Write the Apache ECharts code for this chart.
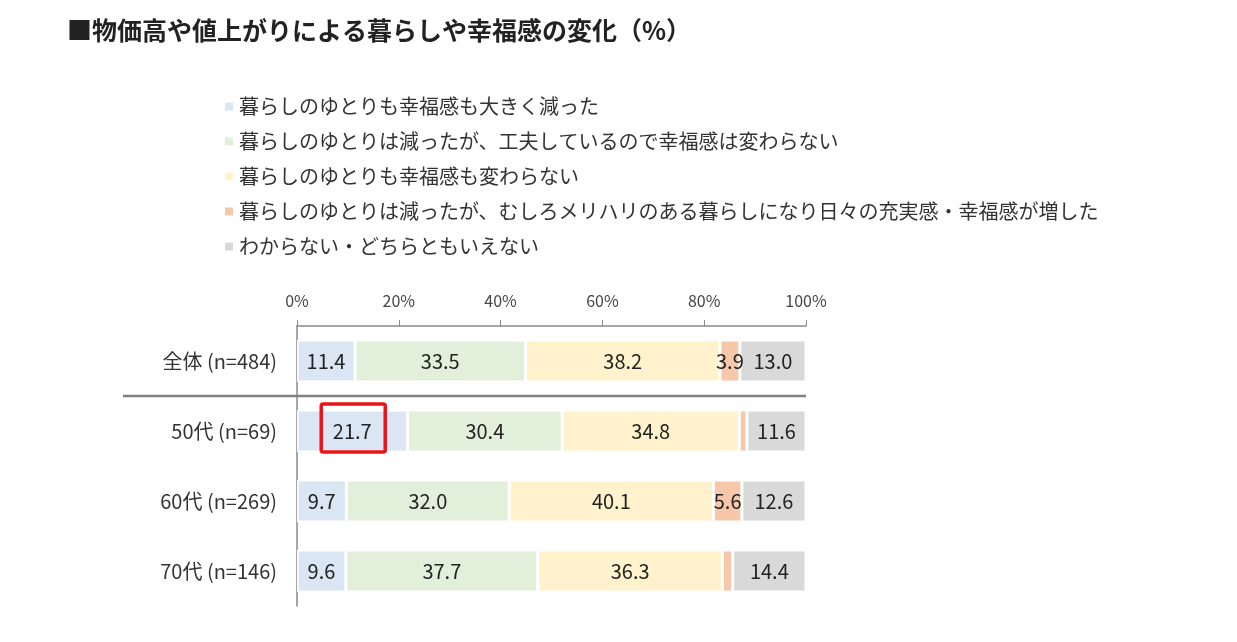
<!DOCTYPE html>
<html>
<head>
<meta charset="utf-8">
<script src="https://cdn.jsdelivr.net/npm/echarts@6/dist/echarts.min.js"></script>
<style>
  html, body { margin: 0; padding: 0; background: #fff; }
  #chart { width: 1237px; height: 642px; }
</style>
</head>
<body>
<div id="chart"></div>
<script>
// カテゴリ（上から順）
var categories = ['全体 (n=484)', '50代 (n=69)', '60代 (n=269)', '70代 (n=146)']
// 回答項目
var seriesNames = [
  '暮らしのゆとりも幸福感も大きく減った',
  '暮らしのゆとりは減ったが、工夫しているので幸福感は変わらない',
  '暮らしのゆとりも幸福感も変わらない',
  '暮らしのゆとりは減ったが、むしろメリハリのある暮らしになり日々の充実感・幸福感が増した',
  'わからない・どちらともいえない'
]
// 各項目の値（%）
var bigDecrease = [11.4, 21.7, 9.7, 9.6]
var sameByEffort = [33.5, 30.4, 32.0, 37.7]
var noChange = [38.2, 34.8, 40.1, 36.3]
var moreFulfilled = [3.9, 1.5, 5.6, 2.0]
var unknown = [13.0, 11.6, 12.6, 14.4]

var colors = ['#dae6f3', '#e2efda', '#fff2cc', '#f6c7a8', '#d9d9d9']
var seriesData = [bigDecrease, sameByEffort, noChange, moreFulfilled, unknown]

var chart = echarts.init(document.getElementById('chart'))

var series = seriesData.map(function (d, i) {
  return {
    name: seriesNames[i],
    type: 'bar',
    stack: 'total',
    barWidth: '60%',
    data: d,
    itemStyle: { color: colors[i], borderColor: '#fff', borderWidth: 1.5 },
    label: {
      show: true,
      position: 'inside',
      fontSize: 20,
      color: '#222',
      formatter: function (p) {
        return p.value < 3 ? '' : p.value.toFixed(1)
      }
    }
  }
})

var option = {
  animation: false,
  textStyle: { fontFamily: 'Noto Sans CJK JP' },
  title: {
    text: '■物価高や値上がりによる暮らしや幸福感の変化（%）',
    left: 62,
    top: 13,
    textStyle: { fontSize: 25, fontWeight: 'bold', color: '#222' }
  },
  legend: {
    orient: 'vertical',
    left: 218,
    top: 91,
    itemWidth: 10,
    itemHeight: 10,
    itemGap: 14,
    icon: 'rect',
    textStyle: { fontSize: 20, lineHeight: 21, color: '#333' },
    data: seriesNames
  },
  grid: { left: 297, right: 431, top: 326, bottom: 36 },
  xAxis: {
    type: 'value',
    position: 'top',
    min: 0,
    max: 100,
    interval: 20,
    axisLine: { show: true, lineStyle: { color: '#888', width: 1.5 } },
    axisTick: { show: true, length: 6, lineStyle: { color: '#888' } },
    axisLabel: { fontSize: 16, color: '#444', margin: 17, formatter: '{value}%' },
    splitLine: { show: false }
  },
  yAxis: {
    type: 'category',
    inverse: true,
    data: categories,
    axisLine: { show: true, lineStyle: { color: '#888', width: 1.5 } },
    axisTick: { show: false },
    axisLabel: { fontSize: 20, color: '#333', margin: 20 }
  },
  series: series
}

chart.setOption(option)

// 区切り線（全体と年代別の間）と赤枠を座標から計算して描く
var yTop = chart.convertToPixel({ yAxisIndex: 0 }, categories[0])
var y50 = chart.convertToPixel({ yAxisIndex: 0 }, categories[1])
var sepY = (yTop + y50) / 2
var x100 = chart.convertToPixel({ xAxisIndex: 0 }, 100)
var boxCx = chart.convertToPixel({ xAxisIndex: 0 }, bigDecrease[1] / 2)

chart.setOption({
  graphic: [
    {
      type: 'line',
      shape: { x1: 123, y1: sepY, x2: x100, y2: sepY },
      style: { stroke: '#808080', lineWidth: 2.5 },
      z: 10
    },
    {
      type: 'rect',
      shape: { x: boxCx - 31, y: y50 - 27, width: 64, height: 48, r: 2 },
      style: { fill: 'none', stroke: '#e8141a', lineWidth: 3.5 },
      z: 20
    }
  ]
})
</script>
</body>
</html>
